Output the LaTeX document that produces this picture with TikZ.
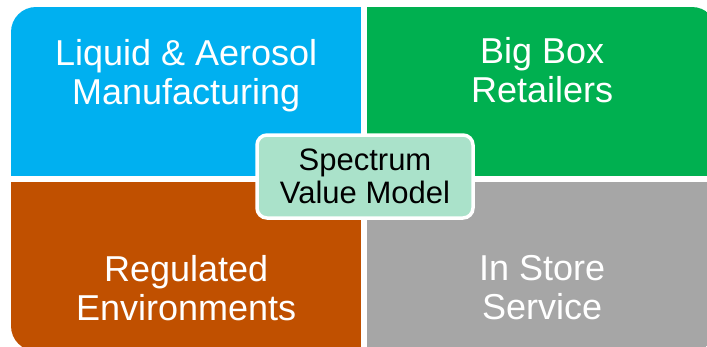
\documentclass[tikz,border=0pt]{standalone}
\usepackage{fontspec}
\setmainfont{Liberation Sans}
\usepackage{tikz}
\usetikzlibrary{positioning}

\definecolor{quadblue}{RGB}{0,176,240}
\definecolor{quadgreen}{RGB}{0,176,80}
\definecolor{quadorange}{RGB}{192,80,0}
\definecolor{quadgray}{RGB}{166,166,166}
\definecolor{hubmint}{RGB}{170,226,202}

\begin{document}
\begin{tikzpicture}[x=1pt, y=-1pt,
    quad/.style={minimum width=350pt, minimum height=169pt, inner sep=0pt, anchor=north west},
    quadtext/.style={text=white, align=center, inner sep=0pt, font=\fontsize{36}{39}\selectfont},
    hub/.style={draw=white, line width=3.5pt, fill=hubmint, rounded corners=10pt,
        minimum width=216pt, minimum height=83pt, inner sep=0pt, align=center,
        font=\fontsize{31}{33}\selectfont}]
    % Page
    \fill[white] (0,0) rectangle (707,346);
    \useasboundingbox (0,0) rectangle (707,346);

    % Quadrants
    \begin{scope}
        \clip[rounded corners=25pt] (11,7) rectangle (717,351);
        \node[quad, fill=quadblue] (liquid) at (11,7) {};
        \node[quad, fill=quadgreen] (bigbox) at (367,7) {};
        \node[quad, fill=quadorange] (regulated) at (11,182) {};
        \node[quad, fill=quadgray] (instore) at (367,182) {};
    \end{scope}

    % Quadrant labels
    \node[quadtext, below=32pt of liquid.north] (liquidtext) {Liquid \& Aerosol\\Manufacturing};
    \node[quadtext, below=30pt of bigbox.north] (bigboxtext) {Big Box\\Retailers};
    \node[quadtext, above=30pt of regulated.south] (regulatedtext) {Regulated\\Environments};
    \node[quadtext, above=31pt of instore.south] (instoretext) {In Store\\Service};

    % Centre
    \node[hub] (spectrum) at (365,176.5) {Spectrum\\Value Model};
\end{tikzpicture}
\end{document}
